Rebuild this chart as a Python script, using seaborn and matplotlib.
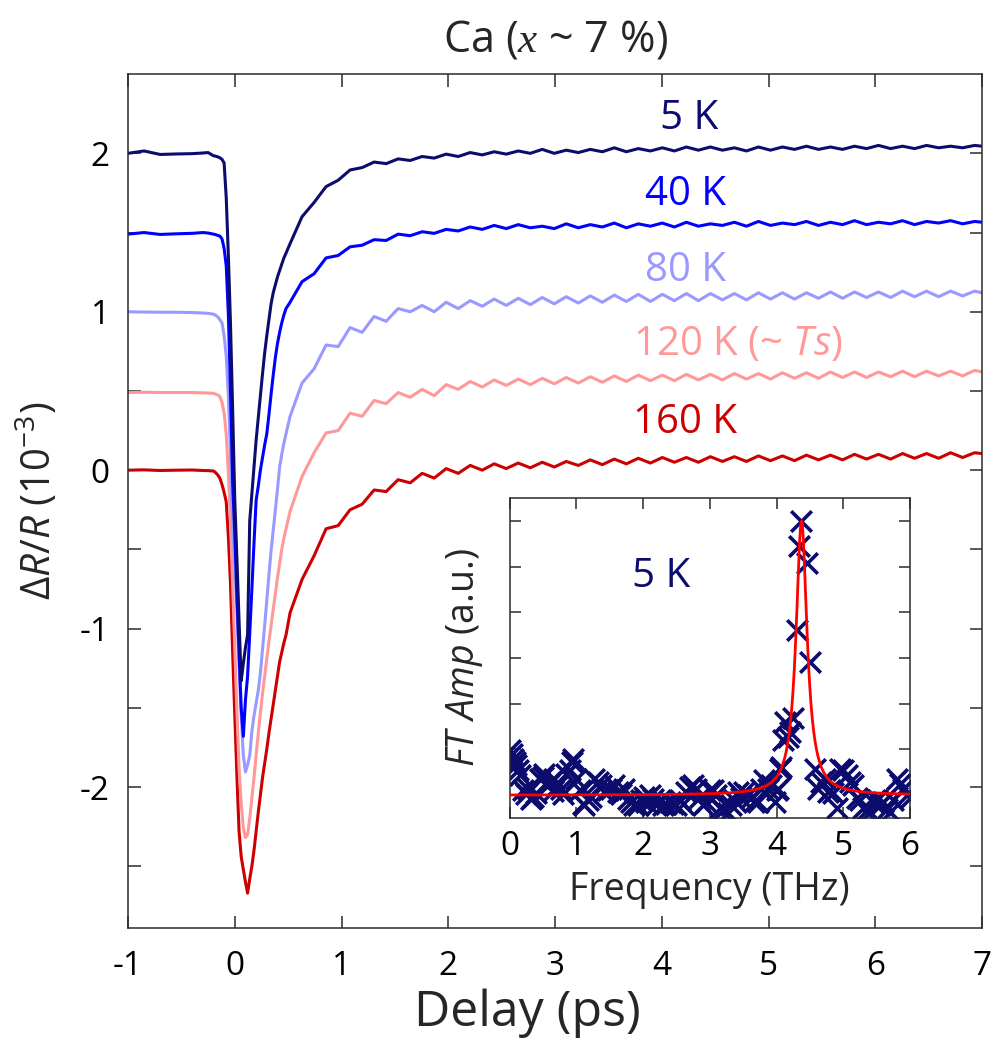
import numpy as np
import pandas as pd
import matplotlib
matplotlib.use("Agg")
import matplotlib.pyplot as plt
import seaborn as sns

# ---------------- transient reflectivity (offset traces, 1e-3) ----------------
delay = ([-1.0, -0.85, -0.7, -0.55, -0.4, -0.3, -0.25]
         + [-0.20, -0.18, -0.16, -0.14, -0.12, -0.10, -0.08, -0.06, -0.04, -0.02,
            0.00, 0.02, 0.04, 0.06, 0.08, 0.10, 0.12, 0.14, 0.16, 0.18,
            0.20, 0.22, 0.24, 0.26, 0.28, 0.30, 0.32, 0.34, 0.36, 0.38,
            0.40, 0.42, 0.44, 0.46, 0.48]
         + [0.518, 0.630, 0.743, 0.855, 0.968, 1.080, 1.193, 1.305, 1.418, 1.530,
            1.643, 1.755, 1.868, 1.980, 2.093, 2.205, 2.318, 2.430, 2.543, 2.655,
            2.768, 2.880, 2.993, 3.105, 3.218, 3.330, 3.443, 3.555, 3.668, 3.780,
            3.893, 4.005, 4.118, 4.230, 4.343, 4.455, 4.568, 4.680, 4.793, 4.905,
            5.018, 5.130, 5.243, 5.355, 5.468, 5.580, 5.693, 5.805, 5.918, 6.030,
            6.143, 6.255, 6.368, 6.480, 6.593, 6.705, 6.818, 6.930, 7.000])

dr_5K = ([2.000, 2.015, 1.993, 1.996, 1.998, 2.002, 2.005]
         + [1.985, 1.982, 1.978, 1.972, 1.962, 1.940, 1.720, 1.350, 0.920, 0.380,
            -0.190, -0.560, -0.950, -1.330, -1.220, -1.120, -1.040, -0.320, -0.150, 0.020,
            0.190, 0.330, 0.470, 0.610, 0.740, 0.850, 0.950, 1.050, 1.120, 1.170,
            1.220, 1.260, 1.300, 1.340, 1.370]
         + [1.430, 1.600, 1.690, 1.790, 1.830, 1.895, 1.910, 1.945, 1.935, 1.965,
            1.955, 1.980, 1.970, 1.995, 1.980, 2.005, 1.990, 2.010, 1.995, 2.015,
            2.000, 2.025, 2.000, 2.020, 2.005, 2.025, 2.010, 2.035, 2.010, 2.030,
            2.015, 2.035, 2.015, 2.040, 2.020, 2.040, 2.020, 2.035, 2.015, 2.040,
            2.020, 2.040, 2.025, 2.045, 2.025, 2.040, 2.025, 2.045, 2.030, 2.050,
            2.030, 2.045, 2.030, 2.050, 2.035, 2.045, 2.035, 2.050, 2.045])

dr_40K = ([1.490, 1.500, 1.488, 1.492, 1.495, 1.500, 1.497]
          + [1.490, 1.487, 1.482, 1.478, 1.460, 1.400, 1.290, 0.980, 0.500, -0.080,
             -0.400, -0.800, -1.150, -1.500, -1.680, -1.450, -1.300, -1.030, -0.750, -0.460,
             -0.190, -0.100, 0.000, 0.080, 0.160, 0.230, 0.350, 0.480, 0.600, 0.710,
             0.800, 0.870, 0.930, 0.980, 1.020]
          + [1.060, 1.190, 1.240, 1.340, 1.355, 1.410, 1.420, 1.455, 1.450, 1.490,
             1.480, 1.505, 1.495, 1.520, 1.510, 1.535, 1.520, 1.545, 1.525, 1.550,
             1.530, 1.540, 1.525, 1.555, 1.530, 1.550, 1.535, 1.560, 1.530, 1.555,
             1.540, 1.560, 1.535, 1.565, 1.540, 1.555, 1.545, 1.565, 1.540, 1.570,
             1.545, 1.560, 1.550, 1.570, 1.545, 1.565, 1.550, 1.575, 1.550, 1.565,
             1.555, 1.575, 1.550, 1.570, 1.560, 1.575, 1.555, 1.570, 1.565])

dr_80K = ([1.000, 0.998, 0.997, 0.997, 0.995, 0.992, 0.990]
          + [0.985, 0.978, 0.968, 0.950, 0.930, 0.850, 0.720, 0.470, 0.100, -0.350,
             -0.600, -0.880, -1.250, -1.550, -1.800, -1.905, -1.860, -1.800, -1.650, -1.550,
             -1.470, -1.390, -1.280, -1.130, -0.980, -0.820, -0.660, -0.510, -0.380, -0.250,
             -0.120, 0.020, 0.100, 0.170, 0.230]
          + [0.340, 0.550, 0.640, 0.790, 0.780, 0.900, 0.870, 0.970, 0.940, 1.020,
             1.000, 1.040, 1.000, 1.060, 1.020, 1.070, 1.035, 1.080, 1.040, 1.085,
             1.045, 1.090, 1.050, 1.095, 1.055, 1.100, 1.060, 1.105, 1.065, 1.110,
             1.065, 1.110, 1.070, 1.115, 1.070, 1.115, 1.075, 1.115, 1.075, 1.120,
             1.080, 1.120, 1.080, 1.120, 1.085, 1.125, 1.085, 1.125, 1.090, 1.125,
             1.090, 1.130, 1.095, 1.130, 1.095, 1.130, 1.100, 1.130, 1.120])

dr_120K = ([0.490, 0.492, 0.490, 0.490, 0.490, 0.488, 0.487]
           + [0.485, 0.480, 0.475, 0.465, 0.430, 0.360, 0.230, -0.020, -0.330, -0.720,
              -1.120, -1.520, -1.880, -2.100, -2.260, -2.320, -2.300, -2.200, -2.070, -1.940,
              -1.800, -1.660, -1.530, -1.410, -1.300, -1.190, -1.080, -0.980, -0.880, -0.780,
              -0.680, -0.590, -0.500, -0.430, -0.370]
           + [-0.260, -0.040, 0.110, 0.235, 0.250, 0.360, 0.340, 0.440, 0.420, 0.490,
              0.460, 0.510, 0.470, 0.540, 0.510, 0.560, 0.525, 0.570, 0.535, 0.575,
              0.540, 0.580, 0.545, 0.585, 0.550, 0.590, 0.555, 0.595, 0.560, 0.600,
              0.565, 0.600, 0.565, 0.605, 0.570, 0.605, 0.570, 0.610, 0.575, 0.610,
              0.575, 0.615, 0.580, 0.615, 0.580, 0.620, 0.585, 0.620, 0.585, 0.620,
              0.590, 0.625, 0.590, 0.625, 0.595, 0.625, 0.595, 0.630, 0.620])

dr_160K = ([0.000, 0.002, -0.002, 0.000, 0.001, -0.002, -0.003]
           + [-0.005, -0.015, -0.030, -0.050, -0.090, -0.140, -0.200, -0.420, -0.720, -1.150,
              -1.550, -1.930, -2.280, -2.440, -2.520, -2.600, -2.670, -2.580, -2.500, -2.400,
              -2.280, -2.160, -2.050, -1.940, -1.850, -1.760, -1.660, -1.570, -1.480, -1.390,
              -1.300, -1.210, -1.150, -1.090, -1.040]
           + [-0.900, -0.690, -0.540, -0.370, -0.350, -0.250, -0.215, -0.125, -0.135, -0.060,
              -0.080, -0.020, -0.050, 0.010, -0.020, 0.030, 0.000, 0.040, 0.010, 0.045,
              0.015, 0.050, 0.020, 0.055, 0.030, 0.065, 0.035, 0.070, 0.040, 0.075,
              0.045, 0.080, 0.050, 0.080, 0.050, 0.085, 0.055, 0.085, 0.055, 0.090,
              0.060, 0.090, 0.060, 0.095, 0.065, 0.095, 0.065, 0.100, 0.070, 0.100,
              0.070, 0.105, 0.075, 0.105, 0.075, 0.110, 0.080, 0.110, 0.105])

temperatures = ["5 K", "40 K", "80 K", "120 K", "160 K"]
trace_colors = ["#0c0c6e", "#0000ff", "#9999ff", "#ff9999", "#cc0000"]
trace_labels = ["5 K", "40 K", "80 K", r"120 K (~ $Ts$)", "160 K"]
label_x = [3.98, 3.84, 3.84, 3.73, 3.73]
label_y = [2.22, 1.74, 1.26, 0.79, 0.30]

# ---------------- Fourier spectrum of the 5 K oscillation ----------------
ft_freq = [0.00, 0.03, 0.05, 0.08, 0.10, 0.13, 0.15, 0.20, 0.25, 0.27,
           0.32, 0.35, 0.40, 0.45, 0.50, 0.52, 0.57, 0.60, 0.65, 0.67,
           0.72, 0.77, 0.80, 0.85, 0.90, 0.93, 0.95, 1.00, 1.05, 1.10,
           1.12, 1.17, 1.22, 1.27, 1.32, 1.37, 1.42, 1.47, 1.52, 1.57,
           1.62, 1.67, 1.72, 1.77, 1.82, 1.87, 1.92, 1.97, 2.02, 2.05,
           2.10, 2.15, 2.20, 2.25, 2.30, 2.35, 2.40, 2.45, 2.50, 2.55,
           2.60, 2.65, 2.70, 2.75, 2.80, 2.85, 2.90, 2.95, 3.00, 3.05,
           3.10, 3.15, 3.20, 3.27, 3.32, 3.37, 3.42, 3.47, 3.52, 3.57,
           3.62, 3.67, 3.72, 3.77, 3.82, 3.87, 3.92, 3.97, 4.00, 4.02,
           4.05, 4.07, 4.10, 4.12, 4.17, 4.20, 4.25, 4.30, 4.34, 4.37,
           4.45, 4.50, 4.57, 4.62, 4.67, 4.72, 4.77, 4.80, 4.85, 4.90,
           4.95, 5.00, 5.05, 5.10, 5.15, 5.20, 5.25, 5.30, 5.35, 5.40,
           5.45, 5.50, 5.55, 5.60, 5.65, 5.70, 5.75, 5.80, 5.85, 5.90,
           5.95, 6.00]
ft_amp = [1.48, 1.40, 1.30, 1.23, 1.15, 1.05, 0.94, 0.62, 0.52, 0.64,
          0.42, 0.46, 0.55, 0.86, 0.90, 0.97, 0.72, 0.79, 0.60, 0.86,
          0.72, 0.64, 0.53, 0.97, 1.05, 1.23, 1.30, 0.86, 0.61, 0.31,
          0.28, 0.39, 0.45, 0.86, 0.79, 0.72, 0.57, 0.61, 0.64, 0.72,
          0.57, 0.53, 0.64, 0.42, 0.35, 0.28, 0.28, 0.39, 0.45, 0.35,
          0.50, 0.42, 0.28, 0.39, 0.28, 0.30, 0.35, 0.31, 0.28, 0.39,
          0.31, 0.57, 0.68, 0.72, 0.64, 0.45, 0.28, 0.35, 0.61, 0.61,
          0.50, 0.21, 0.17, 0.11, 0.28, 0.39, 0.57, 0.43, 0.57, 0.50,
          0.43, 0.35, 0.35, 0.64, 0.83, 0.64, 0.72, 0.35, 0.61, 0.64,
          1.08, 1.12, 1.70, 2.11, 1.78, 1.89, 2.18, 4.12, 5.94, 6.49,
          5.58, 3.42, 1.08, 0.64, 0.79, 0.86, 0.57, 0.61, 0.55, 0.21,
          1.08, 1.05, 0.94, 0.79, 0.72, 0.43, 0.39, 0.21, 0.17, 0.14,
          0.35, 0.39, 0.28, 0.35, 0.20, 0.14, 0.39, 0.86, 0.75, 0.64,
          0.50, 0.43]

# Lorentzian fit of the phonon line
fit_center = 4.375   # THz
fit_hwhm = 0.10      # THz
fit_height = 6.0
fit_offset = 0.5

# ---------------- style ----------------
sns.set_style("ticks")
plt.rcParams.update({
    "font.family": ["Open Sans", "DejaVu Sans"],
    "mathtext.fontset": "custom",
    "mathtext.rm": "Open Sans",
    "mathtext.it": "Open Sans:italic",
    "mathtext.bf": "Open Sans:bold",
    "mathtext.sf": "Liberation Serif:italic",
    "axes.unicode_minus": False,
    "axes.edgecolor": "#2b2b2b",
    "axes.linewidth": 1.1,
    "xtick.color": "#2b2b2b",
    "ytick.color": "#2b2b2b",
    "xtick.labelcolor": "black",
    "ytick.labelcolor": "black",
})

fig = plt.figure(figsize=(9.94, 10.59), dpi=100)
ax = fig.add_axes([0.1288, 0.1237, 0.8592, 0.8063])

traces = {"5 K": dr_5K, "40 K": dr_40K, "80 K": dr_80K, "120 K": dr_120K, "160 K": dr_160K}
df = pd.concat(
    [pd.DataFrame({"delay": delay, "dRR": vals, "T": name}) for name, vals in traces.items()],
    ignore_index=True,
)

for name, col in reversed(list(zip(temperatures, trace_colors))):
    sns.lineplot(data=df[df["T"] == name], x="delay", y="dRR", color=col,
                 linewidth=2.2, sort=False, estimator=None, ax=ax, legend=False)

for lab, col, lx, ly in zip(trace_labels, trace_colors, label_x, label_y):
    ax.text(lx, ly, lab, color=col, fontsize=29, ha="left", va="center")

ax.set_xlim(-1, 7)
ax.set_ylim(-2.89, 2.5)
ax.set_xticks(np.arange(-1, 8, 1))
yt = np.arange(-2.5, 2.01, 0.5)
ax.set_yticks(yt)
ax.set_yticklabels([f"{v:.0f}" if abs(v - round(v)) < 1e-6 else "" for v in yt])
ax.tick_params(direction="in", length=9, width=1.1, labelsize=24,
               top=True, right=True, pad=13)
ax.tick_params(axis="x", pad=16)
ax.set_xlabel("Delay (ps)", fontsize=36)
ax.set_ylabel(r"$\Delta R/R$ (10$^{-3}$)", fontsize=29)
ax.xaxis.set_label_coords(0.468, -0.071)
ax.yaxis.set_label_coords(-0.078, 0.5)
ax.set_title(r"Ca ($\mathsf{x}$ ~ 7 %)", fontsize=31, pad=16)

# ---------------- inset: Fourier amplitude ----------------
ins = fig.add_axes([0.5126, 0.2276, 0.4029, 0.3021])
ft_df = pd.DataFrame({"freq": ft_freq, "amp": ft_amp})
fit_f = np.linspace(0, 6, 600)
fit_df = pd.DataFrame({
    "freq": fit_f,
    "amp": fit_offset + fit_height / (1 + ((fit_f - fit_center) / fit_hwhm) ** 2),
})
sns.lineplot(data=fit_df, x="freq", y="amp", color="#ff0000", linewidth=2.0,
             ax=ins, legend=False, zorder=3)
sns.scatterplot(data=ft_df, x="freq", y="amp", marker="x", s=220, linewidth=2.6,
                color="#0c0c6e", ax=ins, legend=False, zorder=2)
ins.text(2.27, 5.28, "5 K", color="#0c0c6e", fontsize=29, ha="center", va="center")
ins.set_xlim(0, 6)
ins.set_ylim(0, 7)
ins.set_xticks(np.arange(0, 7, 1))
ins.set_yticks(np.arange(1.5, 6.6, 1.0))
ins.set_yticklabels([])
ins.tick_params(direction="in", length=8, width=1.1, labelsize=24,
                top=True, right=True, pad=9)
ins.set_xlabel("Frequency (THz)", fontsize=27)
ins.set_ylabel(r"$FT\ Amp$ (a.u.)", fontsize=27)
ins.xaxis.set_label_coords(0.5, -0.165)
ins.yaxis.set_label_coords(-0.06, 0.5)

fig.savefig("out.png", dpi=100)
